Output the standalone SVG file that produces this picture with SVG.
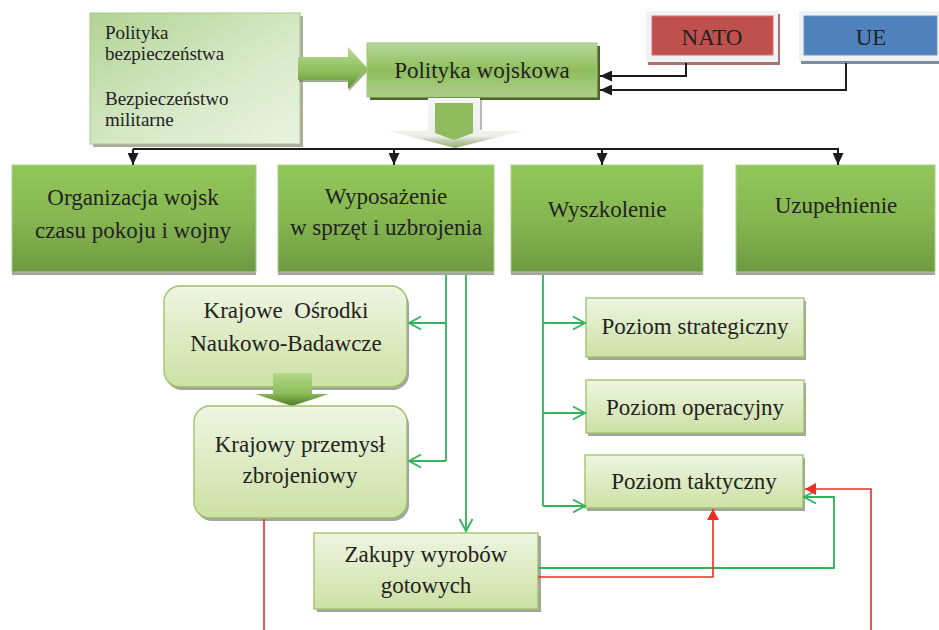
<svg xmlns="http://www.w3.org/2000/svg" width="939" height="630" viewBox="0 0 939 630">
  <defs>
    <linearGradient id="gDark" x1="0" y1="0" x2="0" y2="1">
      <stop offset="0" stop-color="#92c75b"/>
      <stop offset="0.5" stop-color="#86b751"/>
      <stop offset="1" stop-color="#6f9a42"/>
    </linearGradient>
    <linearGradient id="gLight" x1="0" y1="0" x2="0" y2="1">
      <stop offset="0" stop-color="#eef5e2"/>
      <stop offset="1" stop-color="#cde1a4"/>
    </linearGradient>
    <linearGradient id="gMain" x1="0" y1="0" x2="0" y2="1">
      <stop offset="0" stop-color="#b8d89c"/>
      <stop offset="0.5" stop-color="#8fbe5c"/>
      <stop offset="1" stop-color="#aed08b"/>
    </linearGradient>
    <linearGradient id="gSide" x1="0" y1="0" x2="1" y2="1">
      <stop offset="0" stop-color="#b2d394"/>
      <stop offset="0.6" stop-color="#d9eacb"/>
      <stop offset="1" stop-color="#e9f2e0"/>
    </linearGradient>
    <linearGradient id="gRight" x1="0" y1="0" x2="0" y2="1">
      <stop offset="0" stop-color="#b9da94"/>
      <stop offset="0.6" stop-color="#8cbd5a"/>
      <stop offset="1" stop-color="#5f8c33"/>
    </linearGradient>
    <linearGradient id="gDown" x1="0" y1="0" x2="0" y2="1">
      <stop offset="0" stop-color="#f4f5f4"/>
      <stop offset="0.76" stop-color="#eef0ed"/>
      <stop offset="0.84" stop-color="#c8d2b8"/>
      <stop offset="1" stop-color="#98ac76"/>
    </linearGradient>
    <linearGradient id="gSmall" x1="0" y1="0" x2="0" y2="1">
      <stop offset="0" stop-color="#b3d88a"/>
      <stop offset="0.6" stop-color="#8dbf5c"/>
      <stop offset="1" stop-color="#4f7a25"/>
    </linearGradient>
    <marker id="mBlack" markerUnits="userSpaceOnUse" markerWidth="12" markerHeight="11" refX="12" refY="5.5" orient="auto">
      <path d="M0,0 L12,5.5 L0,11 z" fill="#1c1c1c"/>
    </marker>
    <marker id="mGreen" markerUnits="userSpaceOnUse" markerWidth="16" markerHeight="16" refX="14" refY="8" orient="auto">
      <path d="M2,1.5 L14,8 L2,14.5" fill="none" stroke="#2fb35b" stroke-width="1.8"/>
    </marker>
    <marker id="mRed" markerUnits="userSpaceOnUse" markerWidth="12" markerHeight="12" refX="11" refY="6" orient="auto">
      <path d="M0,0 L11,6 L0,12 z" fill="#f02c22"/>
    </marker>
  </defs>
  <style>
    .t22 { font-family: "Liberation Serif", "Times New Roman", serif; font-size: 23px; text-anchor: middle; fill: #222; }
    .t19 { font-family: "Liberation Serif", "Times New Roman", serif; font-size: 19px; fill: #222; }
    .dark { fill: url(#gDark); stroke: #a9d18e; stroke-width: 1; }
    .light { fill: url(#gLight); stroke: #9cc064; stroke-width: 1.3; }
    .shade { fill: #a3a3a3; }
    .blk { fill: none; stroke: #1c1c1c; stroke-width: 2; marker-end: url(#mBlack); }
    .grn { fill: none; stroke: #2fb35b; stroke-width: 1.8; }
    .grnA { marker-end: url(#mGreen); }
    .red { fill: none; stroke: #f02c22; stroke-width: 1.6; }
    .redA { marker-end: url(#mRed); }
  </style>

  <!-- left source box -->
  <g id="bezpieczenstwo">
    <rect x="93" y="16" width="210" height="131" fill="#a9ac9f"/>
    <rect x="90" y="13" width="210" height="131" fill="url(#gSide)" stroke="#a7cd89" stroke-width="1"/>
    <text class="t19" x="105" y="39">Polityka</text>
    <text class="t19" x="105" y="60">bezpieczeństwa</text>
    <text class="t19" x="105" y="105">Bezpieczeństwo</text>
    <text class="t19" x="105" y="126">militarne</text>
  </g>

  <!-- block arrow into Polityka wojskowa -->
  <g id="arrow-right">
    <polygon points="299,59 349,59 349,49 369,70 349,91 349,82 299,82" fill="#5d7f3a" opacity="0.6"/>
    <polygon points="298,57 348,57 348,47 367,68 348,89 348,80 298,80" fill="url(#gRight)"/>
  </g>

  <g id="polityka-wojskowa">
    <rect x="370" y="46" width="230" height="54" fill="#4f6228"/>
    <rect x="367" y="43" width="230" height="54" fill="url(#gMain)" stroke="#9bc77a" stroke-width="1"/>
    <text class="t22" x="482" y="78">Polityka wojskowa</text>
  </g>

  <g id="nato">
    <rect x="648" y="14" width="132" height="51" fill="#a97572"/>
    <rect x="646" y="11" width="132" height="51" fill="#f1f2f3"/>
    <rect x="652" y="16" width="121" height="39" fill="#c0504d" stroke="#d07570" stroke-width="1"/>
    <text class="t22" x="712" y="45">NATO</text>
  </g>

  <g id="ue">
    <rect x="801" y="14" width="140" height="50" fill="#7d8ca4"/>
    <rect x="799" y="11" width="140" height="50" fill="#f1f2f3"/>
    <rect x="804" y="16" width="133" height="39" fill="#4f81bd" stroke="#6f97c8" stroke-width="1"/>
    <text class="t22" x="871" y="45">UE</text>
  </g>

  <!-- broad downward arrow under Polityka wojskowa -->
  <g id="arrow-down">
    <polygon points="428,98 480,98 480,131 523,131 455,148 389,131 428,131" fill="url(#gDown)"/>
    <rect x="480" y="100" width="2" height="30" fill="#b9bcb6"/>
    <polygon points="435,103 473,103 473,133 454,140 435,133" fill="#8fbb5d"/>
  </g>

  <g id="organizacja">
    <rect x="12" y="168" width="244" height="107" class="shade"/>
    <rect x="12" y="165" width="244" height="107" class="dark"/>
    <text class="t22" x="133" y="205">Organizacja wojsk</text>
    <text class="t22" x="133" y="238">czasu pokoju i wojny</text>
  </g>

  <g id="wyposazenie">
    <rect x="278" y="168" width="216" height="107" class="shade"/>
    <rect x="278" y="165" width="216" height="107" class="dark"/>
    <text class="t22" x="386" y="204">Wyposażenie</text>
    <text class="t22" x="386" y="235">w sprzęt i uzbrojenia</text>
  </g>

  <g id="wyszkolenie">
    <rect x="511" y="168" width="192" height="107" class="shade"/>
    <rect x="511" y="165" width="192" height="107" class="dark"/>
    <text class="t22" x="607" y="217">Wyszkolenie</text>
  </g>

  <g id="uzupelnienie">
    <rect x="736" y="168" width="199" height="107" class="shade"/>
    <rect x="736" y="165" width="199" height="107" class="dark"/>
    <text class="t22" x="836" y="213">Uzupełnienie</text>
  </g>

  <g id="osrodki">
    <rect x="166" y="289" width="243" height="101" rx="16" class="shade"/>
    <rect x="164" y="286" width="243" height="101" rx="16" class="light"/>
    <text class="t22" x="286" y="318" xml:space="preserve">Krajowe  Ośrodki</text>
    <text class="t22" x="286" y="351">Naukowo-Badawcze</text>
  </g>

  <g id="arrow-small">
    <polygon points="273,373 312,373 312,394 329,394 292,406 255,394 273,394" fill="url(#gSmall)"/>
  </g>

  <g id="przemysl">
    <rect x="196" y="409" width="213" height="112" rx="16" class="shade"/>
    <rect x="194" y="406" width="213" height="112" rx="16" class="light"/>
    <text class="t22" x="300" y="452">Krajowy przemysł</text>
    <text class="t22" x="300" y="483">zbrojeniowy</text>
  </g>

  <g id="zakupy">
    <rect x="317" y="536" width="224" height="76" class="shade"/>
    <rect x="314" y="533" width="224" height="76" class="light"/>
    <text class="t22" x="426" y="562">Zakupy wyrobów</text>
    <text class="t22" x="426" y="593">gotowych</text>
  </g>

  <g id="strategiczny">
    <rect x="588" y="301" width="218" height="59" class="shade"/>
    <rect x="586" y="298" width="218" height="59" class="light"/>
    <text class="t22" x="695" y="334">Poziom strategiczny</text>
  </g>

  <g id="operacyjny">
    <rect x="588" y="383" width="218" height="53" class="shade"/>
    <rect x="586" y="380" width="218" height="53" class="light"/>
    <text class="t22" x="695" y="415">Poziom operacyjny</text>
  </g>

  <g id="taktyczny">
    <rect x="587" y="458" width="218" height="53" class="shade"/>
    <rect x="585" y="455" width="218" height="53" class="light"/>
    <text class="t22" x="694" y="489">Poziom taktyczny</text>
  </g>

  <g id="connectors">
    <!-- external influences -->
    <path class="blk" d="M686,63 V76 H600"/>
    <path class="blk" d="M846,63 V90 H600"/>
    <!-- distribution bar -->
    <path d="M133,149 H839" fill="none" stroke="#1c1c1c" stroke-width="2"/>
    <path class="blk" d="M133,149 V165"/>
    <path class="blk" d="M394,149 V165"/>
    <path class="blk" d="M602,149 V165"/>
    <path class="blk" d="M838,149 V165"/>
    <!-- equipment branches -->
    <path class="grn" d="M446,275 V461"/>
    <path class="grn grnA" d="M446,323 H409"/>
    <path class="grn grnA" d="M446,461 H409"/>
    <path class="grn grnA" d="M466,275 V531"/>
    <!-- training levels -->
    <path class="grn" d="M543,275 V506"/>
    <path class="grn grnA" d="M543,323 H585"/>
    <path class="grn grnA" d="M543,413 H585"/>
    <path class="grn grnA" d="M543,506 H585"/>
    <!-- purchases to tactical level -->
    <path class="grn grnA" d="M538,568 H834 V497 H804"/>
    <path class="red redA" d="M538,577 H713 V509"/>
    <path class="red redA" d="M871,630 V489 H805"/>
    <path class="red" d="M264,519 V630"/>
  </g>
</svg>
